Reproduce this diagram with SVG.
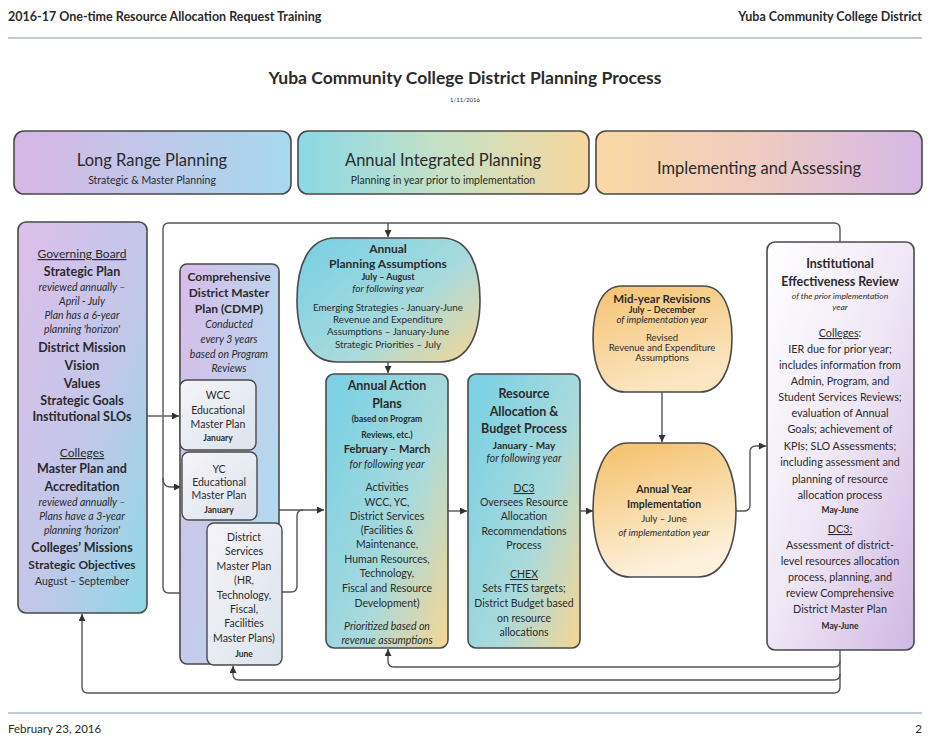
<svg xmlns="http://www.w3.org/2000/svg" width="930" height="742" viewBox="0 0 930 742">
  <defs>
    <style>
      text { font-family: Lato, "Open Sans", "Liberation Sans", sans-serif; fill: #2b2b2b; }
      .c { text-anchor: middle; }
      .b { font-weight: bold; }
      .i { font-style: italic; }
      .u { text-decoration: underline; }
      .box { stroke: #4a4a4a; stroke-width: 1.6; }
      .sub { stroke: #4a4a4a; stroke-width: 1.4; fill: url(#gSub); }
      .conn { fill: none; stroke: #555; stroke-width: 1.4; }
      .rule { stroke: #a9bccd; stroke-width: 1.5; }
    </style>
    <marker id="arr" viewBox="0 0 10 10" refX="10" refY="5" markerWidth="7" markerHeight="7" markerUnits="userSpaceOnUse" orient="auto">
      <path d="M0,0 L10,5 L0,10 Z" fill="#333"/>
    </marker>
    <linearGradient id="gHdr1" x1="0" y1="0" x2="1" y2="0">
      <stop offset="0" stop-color="#d8b6e5"/>
      <stop offset="1" stop-color="#a6d9ee"/>
    </linearGradient>
    <linearGradient id="gHdr2" x1="0" y1="0" x2="1" y2="0">
      <stop offset="0" stop-color="#8ad8e6"/>
      <stop offset="0.5" stop-color="#c6e1c6"/>
      <stop offset="1" stop-color="#f7d69c"/>
    </linearGradient>
    <linearGradient id="gHdr3" x1="0" y1="0" x2="1" y2="0">
      <stop offset="0" stop-color="#fbd8a2"/>
      <stop offset="0.5" stop-color="#efcbc2"/>
      <stop offset="1" stop-color="#d5b8e7"/>
    </linearGradient>
    <linearGradient id="gGov" x1="0" y1="0" x2="1" y2="1">
      <stop offset="0" stop-color="#dcbfea"/>
      <stop offset="0.55" stop-color="#c2c7ea"/>
      <stop offset="1" stop-color="#8dd8e4"/>
    </linearGradient>
    <linearGradient id="gCdmp" x1="0" y1="0" x2="1" y2="0.6">
      <stop offset="0" stop-color="#d8bde9"/>
      <stop offset="1" stop-color="#b2daee"/>
    </linearGradient>
    <linearGradient id="gSub" x1="0" y1="0" x2="1" y2="1">
      <stop offset="0" stop-color="#f6f4f8"/>
      <stop offset="1" stop-color="#dae3ec"/>
    </linearGradient>
    <linearGradient id="gTeal" x1="0" y1="0.2" x2="1" y2="1">
      <stop offset="0" stop-color="#7dd1e3"/>
      <stop offset="0.55" stop-color="#a9dadc"/>
      <stop offset="1" stop-color="#f6d692"/>
    </linearGradient>
    <linearGradient id="gMyr" x1="0" y1="0" x2="0.4" y2="1">
      <stop offset="0" stop-color="#f5c272"/>
      <stop offset="1" stop-color="#fbe6c2"/>
    </linearGradient>
    <linearGradient id="gAyi" x1="0" y1="0" x2="0.3" y2="1">
      <stop offset="0" stop-color="#f4bf68"/>
      <stop offset="1" stop-color="#fdf1dc"/>
    </linearGradient>
    <linearGradient id="gIer" x1="0" y1="0" x2="1" y2="1">
      <stop offset="0" stop-color="#ffffff"/>
      <stop offset="0.5" stop-color="#efe7f5"/>
      <stop offset="1" stop-color="#cfb7e3"/>
    </linearGradient>
  </defs>

  <rect width="930" height="742" fill="#ffffff"/>

  <!-- page header / footer -->
  <text x="8" y="21" class="b" font-size="12.5">2016-17 One-time Resource Allocation Request Training</text>
  <text x="922" y="21" class="b" font-size="12.5" text-anchor="end">Yuba Community College District</text>
  <line class="rule" x1="8" y1="38" x2="922" y2="38"/>
  <text x="465" y="84" class="c b" font-size="17.5">Yuba Community College District Planning Process</text>
  <text x="465" y="102" class="c" font-size="6">1/11/2016</text>
  <line class="rule" x1="8" y1="713" x2="922" y2="713"/>
  <text x="8" y="733" font-size="11.5">February 23, 2016</text>
  <text x="922" y="733" font-size="11.5" text-anchor="end">2</text>

  <!-- phase banners -->
  <g id="phase-long-range">
    <rect class="box" x="14" y="131" width="277" height="63" rx="10" fill="url(#gHdr1)"/>
    <text x="152" y="166" class="c" font-size="16.5">Long Range Planning</text>
    <text x="152" y="184" class="c" font-size="10.5">Strategic &amp; Master Planning</text>
  </g>
  <g id="phase-annual">
    <rect class="box" x="298" y="131" width="291" height="63" rx="10" fill="url(#gHdr2)"/>
    <text x="443" y="166" class="c" font-size="16.5">Annual Integrated Planning</text>
    <text x="443" y="184" class="c" font-size="10.5">Planning in year prior to implementation</text>
  </g>
  <g id="phase-implementing">
    <rect class="box" x="596" y="131" width="326" height="63" rx="10" fill="url(#gHdr3)"/>
    <text x="759" y="174" class="c" font-size="16.5">Implementing and Assessing</text>
  </g>

  <!-- connectors -->
  <g id="connectors">
    <path class="conn" d="M840,242 V229 Q840,223 834,223 H169 Q163,223 163,229 V587 Q163,593 169,593 H206" marker-end="url(#arr)"/>
    <path class="conn" d="M388,223 V237" marker-end="url(#arr)"/>
    <path class="conn" d="M147,416 H179" marker-end="url(#arr)"/>
    <path class="conn" d="M163,478 Q163,487 170,487 H181" marker-end="url(#arr)"/>
    <path class="conn" d="M256,415 H266 Q272,415 272,421 V487"/>
    <path class="conn" d="M257,487 H266 Q272,487 272,493 V504 Q272,510 278,510 H324" marker-end="url(#arr)"/>
    <path class="conn" d="M282,592 H291 Q297,592 297,586 V516 Q297,510 303,510"/>
    <path class="conn" d="M388,362 V373" marker-end="url(#arr)"/>
    <path class="conn" d="M448,511 H467" marker-end="url(#arr)"/>
    <path class="conn" d="M580,511 H593" marker-end="url(#arr)"/>
    <path class="conn" d="M662,392 V442" marker-end="url(#arr)"/>
    <path class="conn" d="M735,511 H744 Q750,511 750,505 V452 Q750,446 756,446 H766" marker-end="url(#arr)"/>
    <path class="conn" d="M840,650 V661 Q840,667 834,667 H394 Q388,667 388,661 V649" marker-end="url(#arr)"/>
    <path class="conn" d="M840,661 V674 Q840,680 834,680 H239 Q233,680 233,674 V666" marker-end="url(#arr)"/>
    <path class="conn" d="M840,674 V687 Q840,693 834,693 H88 Q82,693 82,687 V614" marker-end="url(#arr)"/>
  </g>

  <g id="governing-board">
    <rect class="box" x="18" y="222" width="129" height="391" rx="8" fill="url(#gGov)"/>
    <text x="82" y="258" class="c u" font-size="12">Governing Board</text>
    <text x="82" y="276" class="c b" font-size="12.5">Strategic Plan</text>
    <text x="82" y="291" class="c i" font-size="10.5">reviewed annually –</text>
    <text x="82" y="305" class="c i" font-size="10.5">April - July</text>
    <text x="82" y="319" class="c i" font-size="10.5">Plan has a 6-year</text>
    <text x="82" y="333" class="c i" font-size="10.5">planning 'horizon'</text>
    <text x="82" y="352" class="c b" font-size="12.5">District Mission</text>
    <text x="82" y="370" class="c b" font-size="12.5">Vision</text>
    <text x="82" y="388" class="c b" font-size="12.5">Values</text>
    <text x="82" y="405" class="c b" font-size="12.5">Strategic Goals</text>
    <text x="82" y="421" class="c b" font-size="12.5">Institutional SLOs</text>
    <text x="82" y="457" class="c u" font-size="12">Colleges</text>
    <text x="82" y="473" class="c b" font-size="12.5">Master Plan and</text>
    <text x="82" y="491" class="c b" font-size="12.5">Accreditation</text>
    <text x="82" y="506" class="c i" font-size="10.5">reviewed annually –</text>
    <text x="82" y="520" class="c i" font-size="10.5">Plans have a 3-year</text>
    <text x="82" y="534" class="c i" font-size="10.5">planning 'horizon'</text>
    <text x="82" y="552" class="c b" font-size="12.5">Colleges’ Missions</text>
    <text x="82" y="569" class="c b" font-size="12">Strategic Objectives</text>
    <text x="82" y="585" class="c" font-size="10.5">August – September</text>
  </g>

  <g id="cdmp">
    <rect class="box" x="180" y="264" width="99" height="400" rx="7" fill="url(#gCdmp)"/>
    <text x="229" y="281" class="c b" font-size="12">Comprehensive</text>
    <text x="229" y="297" class="c b" font-size="12">District Master</text>
    <text x="229" y="313" class="c b" font-size="12">Plan (CDMP)</text>
    <text x="229" y="328" class="c i" font-size="10.5">Conducted</text>
    <text x="229" y="343" class="c i" font-size="10.5">every 3 years</text>
    <text x="229" y="358" class="c i" font-size="10.5">based on Program</text>
    <text x="229" y="372" class="c i" font-size="10.5">Reviews</text>
  </g>

  <g id="wcc-emp">
    <rect class="sub" x="180" y="380" width="76" height="70" rx="7"/>
    <text x="218" y="399" class="c" font-size="10.5">WCC</text>
    <text x="218" y="414" class="c" font-size="10.5">Educational</text>
    <text x="218" y="428" class="c" font-size="10.5">Master Plan</text>
    <text x="218" y="441" class="c b" font-size="8.5">January</text>
  </g>

  <g id="yc-emp">
    <rect class="sub" x="182" y="452" width="75" height="68" rx="7"/>
    <text x="219" y="473" class="c" font-size="10.5">YC</text>
    <text x="219" y="486" class="c" font-size="10.5">Educational</text>
    <text x="219" y="499" class="c" font-size="10.5">Master Plan</text>
    <text x="219" y="513" class="c b" font-size="8.5">January</text>
  </g>

  <g id="district-services-mp">
    <rect class="sub" x="207" y="523" width="75" height="142" rx="7"/>
    <text x="244" y="541" class="c" font-size="10.5">District</text>
    <text x="244" y="555" class="c" font-size="10.5">Services</text>
    <text x="244" y="570" class="c" font-size="10.5">Master Plan</text>
    <text x="244" y="584" class="c" font-size="10.5">(HR,</text>
    <text x="244" y="599" class="c" font-size="10.5">Technology,</text>
    <text x="244" y="613" class="c" font-size="10.5">Fiscal,</text>
    <text x="244" y="627" class="c" font-size="10.5">Facilities</text>
    <text x="244" y="642" class="c" font-size="10.5">Master Plans)</text>
    <text x="244" y="657" class="c b" font-size="8.5">June</text>
  </g>

  <g id="planning-assumptions">
    <path class="box" d="M335,238 H442 C469,238 480,266 480,300 C480,338 466,362 440,362 H337 C311,362 297,338 297,300 C297,266 308,238 335,238 Z" fill="url(#gTeal)"/>
    <text x="388" y="253" class="c b" font-size="12">Annual</text>
    <text x="388" y="268" class="c b" font-size="12">Planning Assumptions</text>
    <text x="388" y="280" class="c b" font-size="9">July – August</text>
    <text x="388" y="292" class="c i" font-size="10">for following year</text>
    <text x="388" y="311" class="c" font-size="9.8">Emerging Strategies - January-June</text>
    <text x="388" y="323" class="c" font-size="9.8">Revenue and Expenditure</text>
    <text x="388" y="335" class="c" font-size="9.8">Assumptions – January-June</text>
    <text x="388" y="348" class="c" font-size="9.8">Strategic Priorities – July</text>
  </g>

  <g id="annual-action-plans">
    <rect class="box" x="326" y="374" width="122" height="274" rx="8" fill="url(#gTeal)"/>
    <text x="387" y="390" class="c b" font-size="12.5">Annual Action</text>
    <text x="387" y="408" class="c b" font-size="12.5">Plans</text>
    <text x="387" y="422" class="c b" font-size="8.5">(based on Program</text>
    <text x="387" y="438" class="c b" font-size="8.5">Reviews, etc.)</text>
    <text x="387" y="453" class="c b" font-size="11">February – March</text>
    <text x="387" y="468" class="c i" font-size="10.5">for following year</text>
    <text x="387" y="491" class="c" font-size="10.5">Activities</text>
    <text x="387" y="506" class="c" font-size="10.5">WCC, YC,</text>
    <text x="387" y="520" class="c" font-size="10.5">District Services</text>
    <text x="387" y="534" class="c" font-size="10.5">(Facilities &amp;</text>
    <text x="387" y="548" class="c" font-size="10.5">Maintenance,</text>
    <text x="387" y="563" class="c" font-size="10.5">Human Resources,</text>
    <text x="387" y="577" class="c" font-size="10.5">Technology,</text>
    <text x="387" y="592" class="c" font-size="10.5">Fiscal and Resource</text>
    <text x="387" y="607" class="c" font-size="10.5">Development)</text>
    <text x="387" y="630" class="c i" font-size="10.5">Prioritized based on</text>
    <text x="387" y="644" class="c i" font-size="10.5">revenue assumptions</text>
  </g>

  <g id="resource-allocation">
    <rect class="box" x="468" y="374" width="112" height="274" rx="8" fill="url(#gTeal)"/>
    <text x="524" y="398" class="c b" font-size="12.5">Resource</text>
    <text x="524" y="416" class="c b" font-size="12.5">Allocation &amp;</text>
    <text x="524" y="433" class="c b" font-size="12.5">Budget Process</text>
    <text x="524" y="449" class="c b" font-size="10">January - May</text>
    <text x="524" y="462" class="c i" font-size="10.5">for following year</text>
    <text x="524" y="492" class="c u" font-size="10.5">DC3</text>
    <text x="524" y="506" class="c" font-size="10.5">Oversees Resource</text>
    <text x="524" y="520" class="c" font-size="10.5">Allocation</text>
    <text x="524" y="535" class="c" font-size="10.5">Recommendations</text>
    <text x="524" y="549" class="c" font-size="10.5">Process</text>
    <text x="524" y="578" class="c u" font-size="10.5">CHEX</text>
    <text x="524" y="592" class="c" font-size="10.5">Sets FTES targets;</text>
    <text x="524" y="607" class="c" font-size="10.5">District Budget based</text>
    <text x="524" y="622" class="c" font-size="10.5">on resource</text>
    <text x="524" y="636" class="c" font-size="10.5">allocations</text>
  </g>

  <g id="mid-year-revisions">
    <path class="box" d="M622,286 H703 C724,286 732,310 732,338 C732,370 720,392 700,392 H625 C605,392 593,370 593,338 C593,310 601,286 622,286 Z" fill="url(#gMyr)"/>
    <text x="662" y="303" class="c b" font-size="11.5">Mid-year Revisions</text>
    <text x="662" y="313" class="c b" font-size="9">July – December</text>
    <text x="662" y="323" class="c i" font-size="9.5">of implementation year</text>
    <text x="662" y="341" class="c" font-size="9.5">Revised</text>
    <text x="662" y="351" class="c" font-size="9.5">Revenue and Expenditure</text>
    <text x="662" y="361" class="c" font-size="9.5">Assumptions</text>
  </g>

  <g id="annual-year-implementation">
    <path class="box" d="M628,443 H700 C725,443 736,475 736,510 C736,550 722,577 698,577 H630 C606,577 593,550 593,510 C593,475 604,443 628,443 Z" fill="url(#gAyi)"/>
    <text x="664" y="493" class="c b" font-size="10.5">Annual Year</text>
    <text x="664" y="508" class="c b" font-size="10.5">Implementation</text>
    <text x="664" y="522" class="c" font-size="9.5">July – June</text>
    <text x="664" y="536" class="c i" font-size="9.5">of implementation year</text>
  </g>

  <g id="effectiveness-review">
    <rect class="box" x="767" y="242" width="147" height="408" rx="8" fill="url(#gIer)"/>
    <text x="840" y="268" class="c b" font-size="12.5">Institutional</text>
    <text x="840" y="286" class="c b" font-size="12.5">Effectiveness Review</text>
    <text x="840" y="299" class="c i" font-size="8.5">of the prior implementation</text>
    <text x="840" y="310" class="c i" font-size="8.5">year</text>
    <text x="840" y="337" class="c" font-size="10.8"><tspan class="u">Colleges</tspan>:</text>
    <text x="840" y="353" class="c" font-size="10.8">IER due for prior year;</text>
    <text x="840" y="369" class="c" font-size="10.8">includes information from</text>
    <text x="840" y="385" class="c" font-size="10.8">Admin, Program, and</text>
    <text x="840" y="401" class="c" font-size="10.8">Student Services Reviews;</text>
    <text x="840" y="417" class="c" font-size="10.8">evaluation of Annual</text>
    <text x="840" y="433" class="c" font-size="10.8">Goals; achievement of</text>
    <text x="840" y="450" class="c" font-size="10.8">KPIs; SLO Assessments;</text>
    <text x="840" y="466" class="c" font-size="10.8">including assessment and</text>
    <text x="840" y="483" class="c" font-size="10.8">planning of resource</text>
    <text x="840" y="499" class="c" font-size="10.8">allocation process</text>
    <text x="840" y="513" class="c b" font-size="8.5">May-June</text>
    <text x="840" y="533" class="c u" font-size="10.8">DC3:</text>
    <text x="840" y="549" class="c" font-size="10.8">Assessment of district-</text>
    <text x="840" y="565" class="c" font-size="10.8">level resources allocation</text>
    <text x="840" y="581" class="c" font-size="10.8">process, planning, and</text>
    <text x="840" y="597" class="c" font-size="10.8">review Comprehensive</text>
    <text x="840" y="613" class="c" font-size="10.8">District Master Plan</text>
    <text x="840" y="629" class="c b" font-size="8.5">May-June</text>
  </g>
</svg>
